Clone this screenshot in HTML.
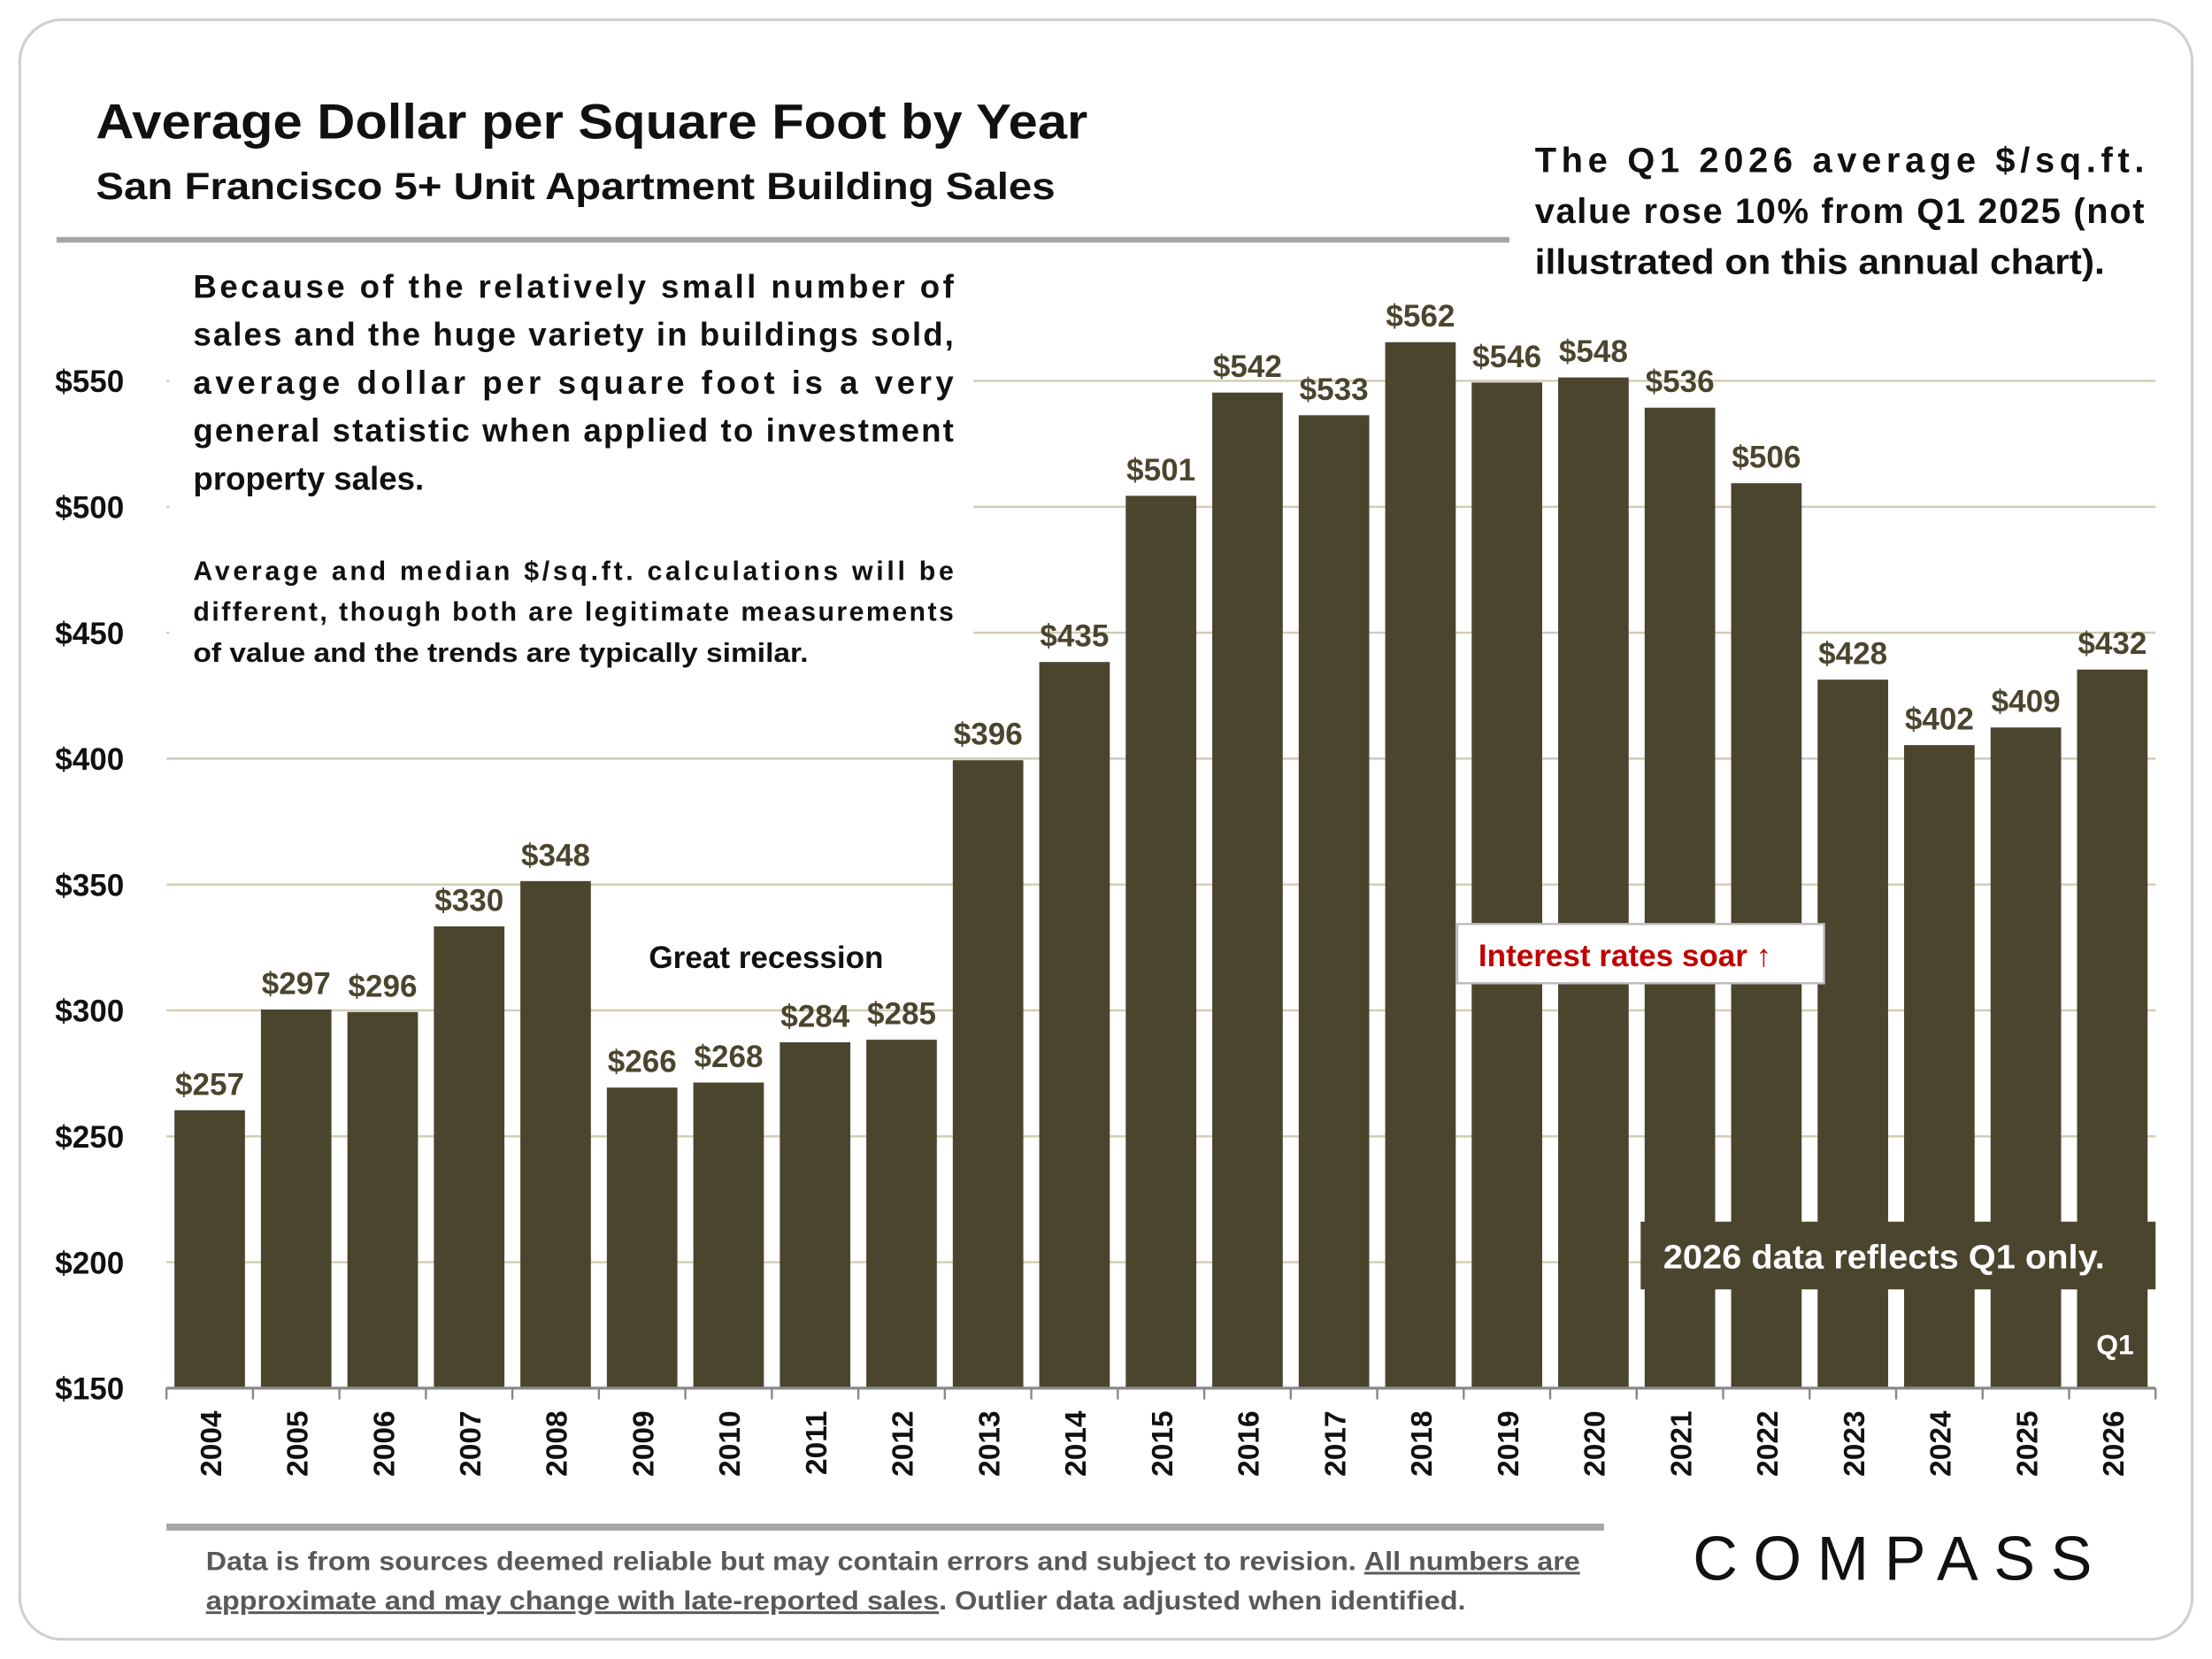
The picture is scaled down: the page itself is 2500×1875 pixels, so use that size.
<!DOCTYPE html>
<html><head><meta charset="utf-8"><style>
html,body{margin:0;padding:0;background:#fff}
svg{display:block}
text{font-family:"Liberation Sans",sans-serif;font-weight:bold}
</style></head><body>
<svg id="chart" width="2500" height="1875" viewBox="0 0 1568 1176" xmlns="http://www.w3.org/2000/svg">
<rect x="14" y="14" width="1540" height="1148" rx="30" fill="#fff" stroke="#d0d0d0" stroke-width="2"/>
<text x="68" y="98" font-size="35" fill="#111" textLength="703" lengthAdjust="spacingAndGlyphs">Average Dollar per Square Foot by Year</text>
<text x="68" y="141" font-size="27" fill="#111" textLength="680" lengthAdjust="spacingAndGlyphs">San Francisco 5+ Unit Apartment Building Sales</text>
<rect x="40" y="168" width="1030" height="4" fill="#a6a6a6"/>
<g font-size="25" fill="#111">
<text x="1088" y="122" textLength="432" lengthAdjust="spacing">The Q1 2026 average $/sq.ft.</text>
<text x="1088" y="158" textLength="432" lengthAdjust="spacing">value rose 10% from Q1 2025 (not</text>
<text x="1088" y="194" textLength="404" lengthAdjust="spacingAndGlyphs">illustrated on this annual chart).</text>
</g>
<g id="grid"></g>
<g id="yaxis"></g>
<rect x="120" y="185" width="570" height="300" fill="#fff"/>
<g fill="#111">
<text x="137" y="211" font-size="23" textLength="539" lengthAdjust="spacing">Because of the relatively small number of</text>
<text x="137" y="245" font-size="23" textLength="539" lengthAdjust="spacing">sales and the huge variety in buildings sold,</text>
<text x="137" y="279" font-size="23" textLength="539" lengthAdjust="spacing">average dollar per square foot is a very</text>
<text x="137" y="313" font-size="23" textLength="539" lengthAdjust="spacing">general statistic when applied to investment</text>
<text x="137" y="347" font-size="23">property sales.</text>
<text x="137" y="411" font-size="19" textLength="539" lengthAdjust="spacing">Average and median $/sq.ft. calculations will be</text>
<text x="137" y="440" font-size="19" textLength="539" lengthAdjust="spacing">different, though both are legitimate measurements</text>
<text x="137" y="469" font-size="19" textLength="436" lengthAdjust="spacingAndGlyphs">of value and the trends are typically similar.</text>
</g>
<g id="bars"></g>
<g id="xaxis"></g>
<text x="460" y="686" font-size="22" fill="#111">Great recession</text>
<g>
<rect x="1033" y="655" width="260" height="42" fill="#fff" stroke="#bbb" stroke-width="1.5"/>
<text x="1048" y="685" font-size="22" fill="#c00000">Interest rates soar ↑</text>
</g>
<g>
<rect x="1163" y="866" width="365" height="48" fill="#4b452e"/>
<text x="1179" y="899" font-size="24" fill="#fff" textLength="313" lengthAdjust="spacingAndGlyphs">2026 data reflects Q1 only.</text>
</g>
<text x="1486" y="960" font-size="20" fill="#fff">Q1</text>
<rect x="118" y="1080" width="1019" height="5" fill="#a6a6a6"/>
<g font-size="18.5" fill="#595959">
<text x="146" y="1113" textLength="974" lengthAdjust="spacingAndGlyphs">Data is from sources deemed reliable but may contain errors and subject to revision. <tspan text-decoration="underline">All numbers are</tspan></text>
<text x="146" y="1141" textLength="893" lengthAdjust="spacingAndGlyphs"><tspan text-decoration="underline">approximate and may change with late-reported sales</tspan>.  Outlier data adjusted when identified.</text>
</g>
<text x="1200" y="1120" font-size="44" fill="#111" style="font-weight:normal" textLength="283" lengthAdjust="spacing">COMPASS</text>
</svg>
<script>
const years = ["2004","2005","2006","2007","2008","2009","2010","2011","2012","2013","2014","2015","2016","2017","2018","2019","2020","2021","2022","2023","2024","2025","2026"];
const values = [257,297,296,330,348,266,268,284,285,396,435,501,542,533,562,546,548,536,506,428,402,409,432];
const valueLabels = ["$257","$297","$296","$330","$348","$266","$268","$284","$285","$396","$435","$501","$542","$533","$562","$546","$548","$536","$506","$428","$402","$409","$432"];
const yTicks = [150,200,250,300,350,400,450,500,550];
const yTickLabels = ["$150","$200","$250","$300","$350","$400","$450","$500","$550"];

const NS = "http://www.w3.org/2000/svg";
const x0 = 118, x1 = 1528, yBase = 984, yMin = 150, pxPer = 714/400;
const band = (x1 - x0) / years.length;
const yScale = v => yBase - (v - yMin) * pxPer;
const xScale = i => x0 + i * band;
function mk(tag, attrs, parent) {
  const el = document.createElementNS(NS, tag);
  for (const k in attrs) el.setAttribute(k, attrs[k]);
  parent.appendChild(el);
  return el;
}
const grid = document.getElementById('grid'), yaxis = document.getElementById('yaxis');
const bars = document.getElementById('bars'), xaxis = document.getElementById('xaxis');
yTicks.forEach((t, i) => {
  if (i > 0) {
    const g = mk('line', {x1: x0, x2: x1, y1: yScale(t), y2: yScale(t), stroke: '#cfcdb0', 'stroke-width': 1.5}, grid);
    
    
  }
  const l = mk('text', {x: 88, y: yScale(t) + 8, 'font-size': 22, 'text-anchor': 'end', fill: '#111'}, yaxis);
  l.textContent = yTickLabels[i];
  
  
});
values.forEach((v, i) => {
  const cx = xScale(i) + band / 2, w = 50;
  const r = mk('rect', {x: cx - w / 2, y: yScale(v) - 6, width: w, height: yBase - yScale(v) + 6, fill: '#4b452e'}, bars);
  
  
  const t = mk('text', {x: cx, y: yScale(v) - 17, 'font-size': 22, 'text-anchor': 'middle', fill: '#4b452e'}, bars);
  t.textContent = valueLabels[i];
  
  
  const xl = mk('text', {x: 0, y: 0, 'font-size': 21, 'text-anchor': 'end', fill: '#111', transform: `translate(${cx + 8},1000) rotate(-90)`}, xaxis);
  xl.textContent = years[i];
  
  
});
const ax = mk('line', {x1: x0, x2: x1, y1: yBase, y2: yBase, stroke: '#888', 'stroke-width': 2}, xaxis);


for (let i = 0; i <= years.length; i++) {
  const tk = mk('line', {x1: xScale(i), x2: xScale(i), y1: yBase, y2: yBase + 8, stroke: '#888', 'stroke-width': 1.5}, xaxis);
  
  
}
</script>
</body></html>
